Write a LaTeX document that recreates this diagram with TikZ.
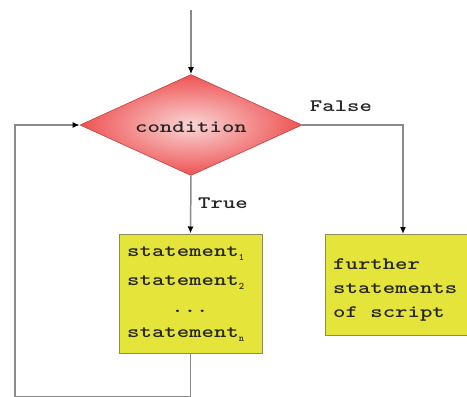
\documentclass[tikz,border=0pt]{standalone}
\usepackage{fontspec}
\usepackage{graphicx}
\usetikzlibrary{shapes.geometric,arrows.meta}
\definecolor{boxyellow}{HTML}{E4E43A}
\definecolor{boxedge}{HTML}{8C8C5A}
\definecolor{linegray}{HTML}{8A8A8A}
\definecolor{diaout}{HTML}{EE5252}
\definecolor{diain}{HTML}{FAD6D6}
\newcommand{\widetxt}[1]{\scalebox{1.35}[1]{#1}}
\newcommand{\subidx}[1]{\raisebox{-4pt}{\fontsize{10}{10}\selectfont #1}}
\tikzset{
  txt/.style={font=\ttfamily\bfseries\fontsize{17.5}{24}\selectfont\addfontfeature{FakeBold=2}, inner sep=0pt, text=black!85},
  decision/.style={diamond, draw=diaout!80!black, line width=0.6pt, shading=radial,
     inner color=diain, outer color=diaout, minimum width=222pt, minimum height=101pt, inner sep=0pt},
  stmt/.style={rectangle, draw=boxedge, line width=1pt, fill=boxyellow},
  flow/.style={draw=linegray, line width=1.5pt, -{Latex[black,length=7pt,width=6pt]}}
}
\begin{document}
\begin{tikzpicture}[x=1pt,y=-1pt]
\useasboundingbox (0,0) rectangle (467,397);
\coordinate (start) at (191,10);
\node[decision] (cond) at (191,125) {};
\node[txt] (condtxt) at (191,127) {\widetxt{condition}};
\node[stmt, minimum width=143pt, minimum height=119pt] (b1) at (190.5,293.5) {};
\node[stmt, minimum width=142pt, minimum height=101pt] (b2) at (396,285) {};
\node[txt, anchor=base west] (s1) at (127,256) {\widetxt{statement}\subidx{1}};
\node[txt, anchor=base west] (s2) at (127,285) {\widetxt{statement}\subidx{2}};
\node[txt] (sd) at (190,311) {\widetxt{...}};
\node[txt, anchor=base west] (sn) at (127,337) {\widetxt{statement}\subidx{n}};
\node[txt, anchor=north west, align=left] (f) at (333,258) {\widetxt{further}\\\widetxt{statements}\\\widetxt{of script}};
\node[txt] (falselbl) at (341,106) {\widetxt{False}};
\node[txt] (truelbl) at (223,203) {\widetxt{True}};
\draw[flow] (start) -- (cond.north);
\draw[flow] (cond.south) -- (b1.north);
\draw[flow] (cond.east) -| ([xshift=7pt]b2.north);
\draw[flow] (b1.south) -- ++(0,43) -| (15,125) -- (cond.west);
\end{tikzpicture}
\end{document}
